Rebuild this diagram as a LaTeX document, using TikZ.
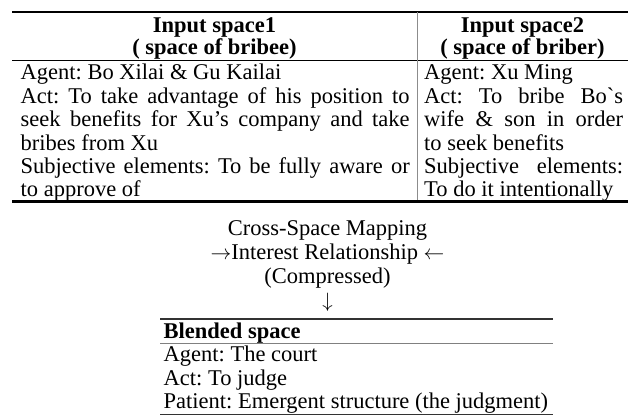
\documentclass[tikz,border=0pt]{standalone}
\usepackage{fontspec}
\setmainfont{Liberation Serif}
\usetikzlibrary{positioning}

\begin{document}
\frenchspacing
\begin{tikzpicture}[
        x=1pt, y=-1pt,
        every node/.style={inner sep=0pt, font=\fontsize{22.5}{23.5}\selectfont},
        head/.style={anchor=base, align=center, font=\fontsize{22.5}{22}\selectfont\bfseries},
        cell/.style={anchor=base west, align=justify},
        thickrule/.style={line width=2pt},
        thinrule/.style={line width=0.9pt},
        grayrule/.style={line width=0.6pt, black!45}
    ]
    \useasboundingbox (0,0) rectangle (630,415);
    \hyphenpenalty=10000

    % Input spaces (table)
    \coordinate (tl) at (12,12);
    \coordinate (tr) at (628,12);
    \coordinate (bl) at (12,201.5);
    \coordinate (br) at (628,201.5);
    \coordinate (ct) at (417,12);
    \coordinate (cb) at (417,201.5);

    \node[head] (head1) at (214.5,54) {Input space1\\( space of bribee)};
    \node[head] (head2) at (522.5,54) {Input space2\\( space of briber)};

    \node[cell, text width=389] (space1) at (20.5,79.5) {%
        Agent: Bo Xilai \& Gu Kailai\par
        Act: To take advantage of his position to\linebreak
        seek benefits for Xu's company and take\linebreak
        bribes from Xu\par
        Subjective elements: To be fully aware or\linebreak
        to approve of};
    \node[cell, text width=199] (space2) at (424,79.5) {%
        Agent: Xu Ming\par
        Act: To bribe Bo\textasciigrave s\linebreak
        wife \& son in order\linebreak
        to seek benefits\par
        Subjective elements:\linebreak
        To do it intentionally};

    \draw[thickrule] (tl) -- (tr);
    \draw[thinrule] (12,60) -- (628,60);
    \draw[grayrule] (ct) -- (cb);
    \draw[line width=2.5pt] (bl) -- (br);

    % Mapping
    \node[anchor=base, align=center, font=\fontsize{22.5}{24}\selectfont] (mapping) at (327.5,307)
        {Cross-Space Mapping\\$\rightarrow$Interest Relationship $\leftarrow$\\(Compressed)\\$\downarrow$};

    % Blended space
    \node[anchor=base west, font=\fontsize{22.5}{23.5}\selectfont\bfseries] (blendhead) at (163.5,338) {Blended space};
    \node[cell, text width=386] (blend) at (163.5,361.5) {%
        Agent: The court\par
        Act: To judge\par
        Patient: Emergent structure (the judgment)};

    \draw[line width=1.3pt, black!80] (160,319) -- (553,319);
    \draw[line width=0.8pt, black!50] (160,343) -- (553,343);
    \draw[line width=0.8pt, black!80] (160,414.5) -- (553,414.5);
\end{tikzpicture}
\end{document}
